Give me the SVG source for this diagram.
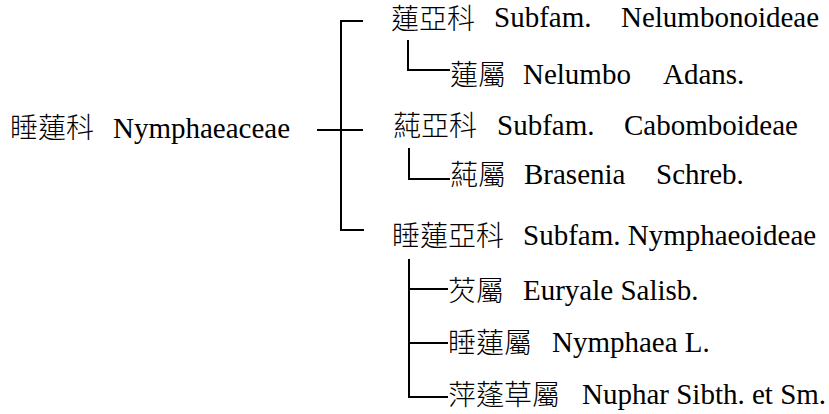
<svg xmlns="http://www.w3.org/2000/svg" width="829" height="414" viewBox="0 0 829 414">
<style>
  .lat { font-family: 'Liberation Serif', 'Times New Roman', serif; font-size: 29px; fill: #000; }
  .cjk { font-family: 'Noto Sans CJK TC', 'Noto Sans CJK SC', sans-serif; font-weight: 300; font-size: 28px; fill: #000; }
  .ln { stroke: #000; stroke-width: 2; fill: none; }
</style>
<rect width="829" height="414" fill="#fff"/>
<g id="connectors">
  <path class="ln" d="M363,21 H341 V230 H364"/>
  <path class="ln" d="M317,130 H363"/>
  <path class="ln" d="M408,40 V70 H450"/>
  <path class="ln" d="M409,148 V179 H450"/>
  <path class="ln" d="M409,259 V397 H448"/>
  <path class="ln" d="M409,289 H448"/>
  <path class="ln" d="M409,343 H448"/>
</g>
<g id="family">
  <text x="10" y="138" class="cjk">睡蓮科</text>
  <text x="113" y="138" class="lat">Nymphaeaceae</text>
</g>
<g id="subfam-nelumbonoideae">
  <text x="391" y="29" class="cjk">蓮亞科</text>
  <text x="494" y="27" class="lat">Subfam.</text>
  <text x="621" y="27" class="lat">Nelumbonoideae</text>
</g>
<g id="genus-nelumbo">
  <text x="450" y="85" class="cjk">蓮屬</text>
  <text x="523" y="84" class="lat">Nelumbo</text>
  <text x="663" y="84" class="lat">Adans.</text>
</g>
<g id="subfam-cabomboideae">
  <text x="393" y="136" class="cjk">蒓亞科</text>
  <text x="497" y="135" class="lat">Subfam.</text>
  <text x="624" y="135" class="lat">Cabomboideae</text>
</g>
<g id="genus-brasenia">
  <text x="450" y="185" class="cjk">蒓屬</text>
  <text x="524" y="184" class="lat">Brasenia</text>
  <text x="656" y="184" class="lat">Schreb.</text>
</g>
<g id="subfam-nymphaeoideae">
  <text x="392" y="246" class="cjk">睡蓮亞科</text>
  <text x="523" y="245" class="lat">Subfam. Nymphaeoideae</text>
</g>
<g id="genus-euryale">
  <text x="448" y="301" class="cjk">芡屬</text>
  <text x="523" y="300" class="lat">Euryale Salisb.</text>
</g>
<g id="genus-nymphaea">
  <text x="448" y="353" class="cjk">睡蓮屬</text>
  <text x="552" y="352" class="lat">Nymphaea L.</text>
</g>
<g id="genus-nuphar">
  <text x="448" y="405" class="cjk">萍蓬草屬</text>
  <text x="582" y="404" class="lat">Nuphar Sibth. et Sm.</text>
</g>
</svg>
